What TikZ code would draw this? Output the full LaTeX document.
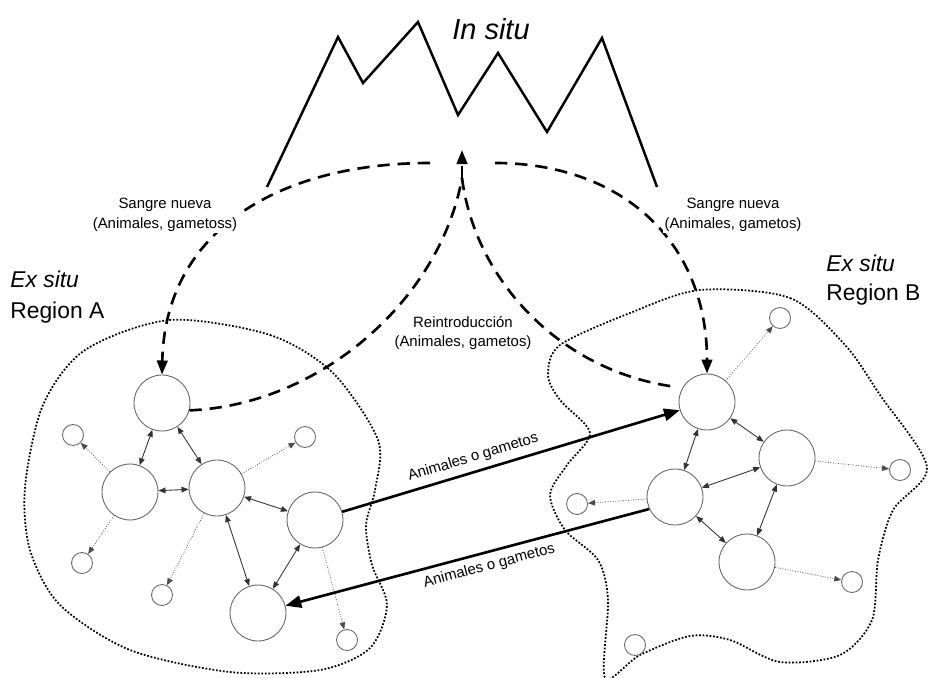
\documentclass[tikz,border=0pt]{standalone}
\usepackage{fontspec}
\setmainfont{Liberation Sans}
\usetikzlibrary{arrows.meta,positioning,calc}

\tikzset{
  herd/.style={circle, draw=black!60, line width=0.5pt, minimum size=1.12cm, inner sep=0pt},
  herdlet/.style={circle, draw=black!60, line width=0.5pt, minimum size=0.42cm, inner sep=0pt},
  link/.style={{Triangle[length=4pt,width=3.2pt]}-{Triangle[length=4pt,width=3.2pt]}, line width=0.5pt, black!80},
  leak/.style={-{Triangle[length=4pt,width=3.2pt]}, line width=0.45pt, black!70, densely dotted},
  flow/.style={line width=1.5pt, dash pattern=on 7pt off 4.5pt},
  tip/.style={-{Triangle[length=8pt,width=6pt]}},
  trade/.style={-{Triangle[length=9pt,width=7pt]}, line width=1.5pt},
  ridge/.style={line width=1.4pt, line join=miter},
  zone/.style={line width=1pt, densely dotted},
  lbl/.style={font=\fontsize{8.5}{11}\selectfont, fill=white, inner sep=1pt, align=center},
  place/.style={font=\fontsize{13}{15}\selectfont, anchor=base west, inner sep=0pt}
}

\begin{document}
\begin{tikzpicture}[x=0.02cm, y=-0.02cm]
    \useasboundingbox (0,0) rectangle (928,678);

    % In situ
    \draw [ridge] (267,187) -- (338,37) -- (363,83) -- (418,22) -- (458,115)
        -- (498,53) -- (547,132) -- (602,38) -- (657,187);
    \node [font=\fontsize{16.5}{18}\selectfont\itshape, anchor=base] (insitu) at (491,40) {In situ};

    % Regions
    \draw [zone] plot [smooth cycle] coordinates {(170,320) (270,335) (333,373) (378,440)
        (375,490) (366,525) (372,565) (387,605) (370,648) (320,670) (230,672) (130,650)
        (60,605) (30,550) (25,487) (43,405) (85,350)};
    \draw [zone] plot [smooth cycle] coordinates {(700,290) (790,298) (845,345) (880,395)
        (927,467) (893,510) (878,560) (872,620) (840,655) (780,662) (730,640) (690,636)
        (640,655) (605,678) (608,600) (598,560) (565,530) (550,495) (567,465) (590,433)
        (560,400) (548,375) (560,345) (630,313)};
    \node [place, font=\fontsize{13}{15}\selectfont\itshape] (exA) at (10,288) {Ex situ};
    \node [place] (regA) at (10,318) {Region A};
    \node [place, font=\fontsize{13}{15}\selectfont\itshape] (exB) at (826,272) {Ex situ};
    \node [place] (regB) at (826,301) {Region B};

    % Region A
    \node [herd] (A1) at (162,403) {};
    \node [herd] (A2) at (130,492) {};
    \node [herd] (A3) at (217,488) {};
    \node [herd] (A4) at (315,520) {};
    \node [herd] (A5) at (258,613) {};
    \node [herdlet] (a1) at (73,435) {};
    \node [herdlet] (a2) at (305,437) {};
    \node [herdlet] (a3) at (82,563) {};
    \node [herdlet] (a4) at (162,595) {};
    \node [herdlet] (a5) at (347,640) {};
    \draw [link] (A1) -- (A2);
    \draw [link] (A1) -- (A3);
    \draw [link] (A2) -- (A3);
    \draw [link] (A3) -- (A4);
    \draw [link] (A3) -- (A5);
    \draw [link] (A4) -- (A5);
    \draw [leak] (A2) -- (a1);
    \draw [leak] (A2) -- (a3);
    \draw [leak] (A3) -- (a2);
    \draw [leak] (A3) -- (a4);
    \draw [leak] (A4) -- (a5);

    % Region B
    \node [herd] (B1) at (707,402) {};
    \node [herd] (B2) at (787,458) {};
    \node [herd] (B3) at (675,497) {};
    \node [herd] (B4) at (747,562) {};
    \node [herdlet] (b1) at (780,318) {};
    \node [herdlet] (b2) at (900,470) {};
    \node [herdlet] (b3) at (577,504) {};
    \node [herdlet] (b4) at (852,582) {};
    \node [herdlet] (b5) at (635,645) {};
    \draw [link] (B1) -- (B2);
    \draw [link] (B1) -- (B3);
    \draw [link] (B2) -- (B3);
    \draw [link] (B3) -- (B4);
    \draw [link] (B2) -- (B4);
    \draw [leak] (B1) -- (b1);
    \draw [leak] (B2) -- (b2);
    \draw [leak] (B3) -- (b3);
    \draw [leak] (B4) -- (b4);

    % Exchange between regions
    \draw [trade] (A4) -- (B1) node [pos=0.4, above, sloped, font=\fontsize{8.5}{10}\selectfont] {Animales o gametos};
    \draw [trade] (B3.205) -- (A5) node [pos=0.45, below, sloped, font=\fontsize{8.5}{10}\selectfont] {Animales o gametos};

    % New blood and reintroduction
    \coordinate (sl) at (430,163);
    \coordinate (sr) at (495,163);
    \coordinate (cusp) at (462,178);
    \coordinate (peak) at (462,150);
    \draw [flow, tip] (sl) .. controls (280,163) and (165,230) .. (A1.north);
    \draw [flow, tip] (sr) .. controls (620,163) and (707,240) .. (B1.north);
    \draw [flow] (A1.-15) .. controls (320,405) and (440,300) .. (cusp);
    \draw [flow, shorten >=3pt] (cusp) .. controls (475,280) and (560,372) .. (B1.150);
    \draw [flow, tip] (cusp) -- (peak);
    \node [lbl] (newA) at (165,215) {Sangre nueva\\(Animales, gametoss)};
    \node [lbl] (newB) at (733,215) {Sangre nueva\\(Animales, gametos)};
    \node [lbl] (back) at (463,333) {Reintroducción\\(Animales, gametos)};
\end{tikzpicture}
\end{document}
